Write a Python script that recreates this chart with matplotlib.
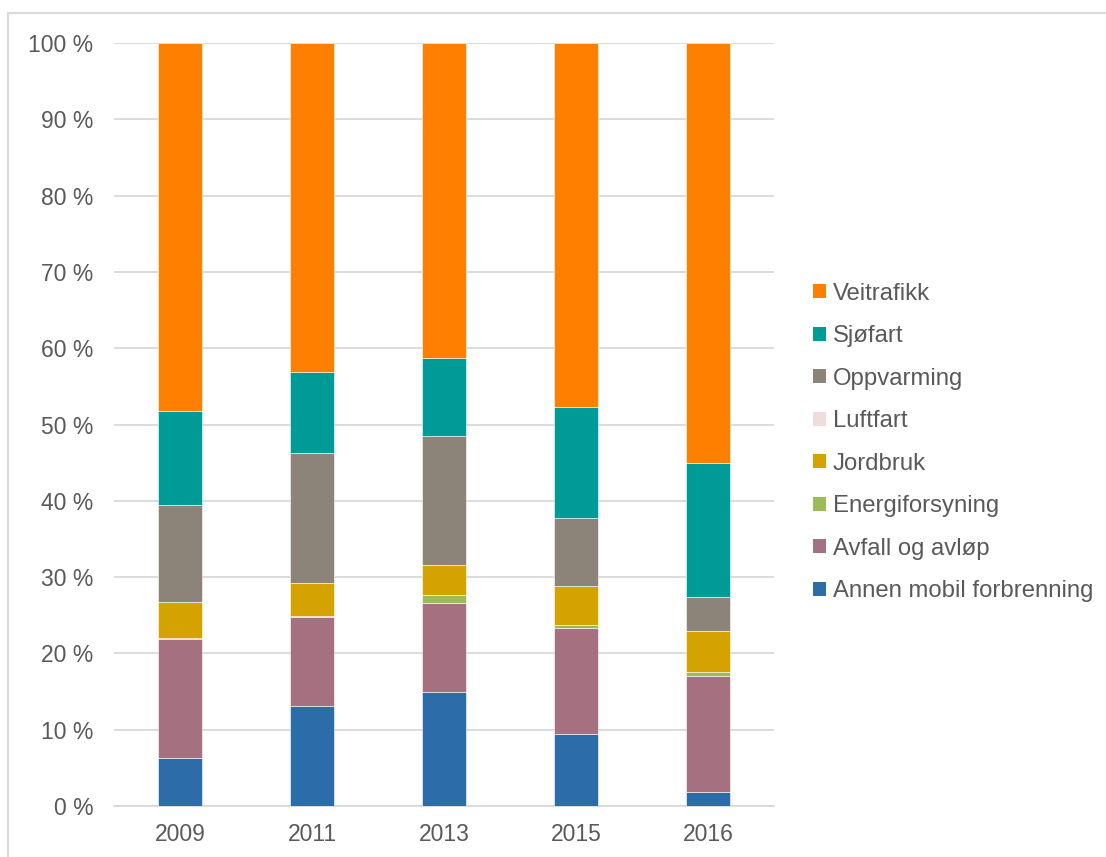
import numpy as np
import matplotlib.pyplot as plt
from matplotlib.patches import Rectangle, Patch

plt.rcParams['font.family'] = ['Liberation Sans', 'DejaVu Sans']

years = ['2009', '2011', '2013', '2015', '2016']

# shares in percent, bottom to top
annen_mobil = [6.3, 13.1, 15.0, 9.5, 1.8]
avfall = [15.6, 11.7, 11.6, 13.85, 15.3]
energi = [0.1, 0.1, 1.0, 0.35, 0.4]
jordbruk = [4.8, 4.3, 4.0, 5.1, 5.5]
luftfart = [0.0, 0.0, 0.0, 0.0, 0.0]
oppvarming = [12.7, 17.0, 16.9, 8.9, 4.4]
sjofart = [12.3, 10.7, 10.2, 14.65, 17.5]
veitrafikk = [48.2, 43.1, 41.3, 47.65, 55.1]

series = [
    ('Annen mobil forbrenning', annen_mobil, '#2C6DA9'),
    ('Avfall og avløp', avfall, '#A5707F'),
    ('Energiforsyning', energi, '#9BBB59'),
    ('Jordbruk', jordbruk, '#D4A302'),
    ('Luftfart', luftfart, '#F2DCDB'),
    ('Oppvarming', oppvarming, '#8C8379'),
    ('Sjøfart', sjofart, '#009B96'),
    ('Veitrafikk', veitrafikk, '#FF8000'),
]

W, H = 1106, 857
fig = plt.figure(figsize=(W / 100, H / 100), dpi=100)
ax = fig.add_axes([114 / W, 51 / H, 660 / W, 763 / H])

x = np.arange(len(years))
bottom = np.zeros(len(years))
for name, vals, col in series:
    vals = np.array(vals)
    ax.bar(x, vals, bottom=bottom, width=0.335, color=col, label=name,
           edgecolor='white', linewidth=0.4, zorder=3)
    bottom += vals

ax.set_xlim(-0.5, len(years) - 0.5)
ax.set_ylim(0, 100)
ax.set_yticks(np.arange(0, 101, 10))
ax.set_yticklabels(['%d %%' % v for v in range(0, 101, 10)])
ax.set_xticks(x)
ax.set_xticklabels(years)
ax.tick_params(length=0, labelsize=16.5, colors='#595959')
ax.tick_params(axis='y', pad=15)
ax.tick_params(axis='x', pad=12)
ax.grid(axis='y', color='#D9D9D9', linewidth=1.3, zorder=0)
for s in ['top', 'right', 'left']:
    ax.spines[s].set_visible(False)
ax.spines['bottom'].set_color('#D9D9D9')
ax.spines['bottom'].set_linewidth(1.3)

handles = [Patch(facecolor=c, edgecolor='none') for _, _, c in series][::-1]
labels = [n for n, _, _ in series][::-1]
leg = fig.legend(handles, labels, loc='center left',
                 bbox_to_anchor=(792 / W, 1 - 442.5 / H), frameon=False,
                 fontsize=17.2, labelspacing=0.86, handlelength=0.52,
                 handleheight=0.52, handletextpad=0.3)
for t in leg.get_texts():
    t.set_color('#595959')

fig.patches.append(Rectangle((8 / W, -0.1), 1.2, 1.1 - 13 / H,
                             transform=fig.transFigure, fill=False,
                             edgecolor='#D9D9D9', linewidth=1.5))

fig.savefig('out.png', dpi=100, facecolor='white')
